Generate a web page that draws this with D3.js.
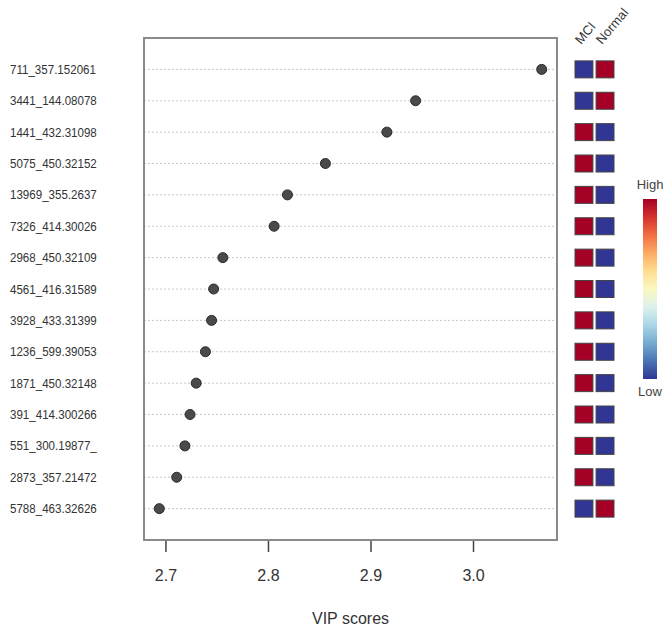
<!DOCTYPE html>
<html lang="en">
<head>
<meta charset="UTF-8"/>
<title>VIP scores</title>
<script src="https://d3js.org/d3.v7.min.js"></script>
<style>
  body { margin: 0; background: #fff; }
  text { font-family: "Liberation Sans", Arial, sans-serif; }
</style>
</head>
<body>
<div id="chart"></div>
<script>
// features, top to bottom
var features = ["711_357.152061", "3441_144.08078", "1441_432.31098", "5075_450.32152",
  "13969_355.2637", "7326_414.30026", "2968_450.32109", "4561_416.31589", "3928_433.31399",
  "1236_599.39053", "1871_450.32148", "391_414.300266", "551_300.19877_", "2873_357.21472",
  "5788_463.32626"];
var vip = [3.067, 2.944, 2.916, 2.856, 2.819, 2.806, 2.756, 2.747, 2.745, 2.739,
  2.730, 2.724, 2.719, 2.711, 2.694];
// relative level per group (1 = high, 0 = low)
var groups = ["MCI", "Normal"];
var mci    = [0, 0, 1, 1, 1, 1, 1, 1, 1, 1, 1, 1, 1, 1, 0];
var normal = [1, 1, 0, 0, 0, 0, 0, 0, 0, 0, 0, 0, 0, 0, 1];
var xTicks = [2.7, 2.8, 2.9, 3.0];

var W = 666, H = 637;
var box = {left: 144, right: 557, top: 38, bottom: 540};

var svg = d3.select("#chart").append("svg")
  .attr("width", W).attr("height", H);

// x: R style 4% padding around data range
var lo = d3.min(vip), hi = d3.max(vip), pad = (hi - lo) * 0.04;
var x = d3.scaleLinear().domain([lo - pad, hi + pad]).range([box.left, box.right]);
// y: rows 1..n, with one slot of space at each end
var n = features.length;
var y = d3.scaleLinear().domain([0, n + 1]).range([box.bottom, box.top]);
var rowY = function(i) { return y(n - i); };

// dotted guide lines
svg.selectAll("line.grid")
  .data(vip)
  .enter().append("line")
    .attr("class", "grid")
    .attr("x1", box.left).attr("x2", box.right)
    .attr("y1", function(d, i) { return rowY(i); })
    .attr("y2", function(d, i) { return rowY(i); })
    .attr("stroke", "#c8c8c8")
    .attr("stroke-dasharray", "2,2");

// frame
svg.append("rect")
  .attr("x", box.left).attr("y", box.top)
  .attr("width", box.right - box.left).attr("height", box.bottom - box.top)
  .attr("fill", "none").attr("stroke", "#8a8a8a").attr("stroke-width", 2);

// feature labels (picture is a bit squeezed sideways)
svg.selectAll("text.lab")
  .data(features)
  .enter().append("text")
    .attr("class", "lab")
    .attr("transform", function(d, i) { return "translate(10," + rowY(i) + ") scale(0.89,1)"; })
    .attr("dy", "0.35em")
    .attr("font-size", 13)
    .attr("fill", "#333")
    .text(function(d) { return d; });

// dots
svg.selectAll("circle.dot")
  .data(vip)
  .enter().append("circle")
    .attr("class", "dot")
    .attr("cx", function(d) { return x(d); })
    .attr("cy", function(d, i) { return rowY(i); })
    .attr("r", 5)
    .attr("fill", "#4a4a4a")
    .attr("stroke", "#2a2a2a");

// x axis
var ax = svg.append("g")
  .attr("transform", "translate(0," + (box.bottom + 1) + ")")
  .call(d3.axisBottom(x).tickValues(xTicks).tickFormat(d3.format(".1f")).tickSize(11).tickPadding(18));
ax.select(".domain").remove();
ax.selectAll("line").attr("stroke", "#444").attr("stroke-width", 1.5);
ax.selectAll("text").attr("font-size", 16).attr("fill", "#333")
  .style("font-family", "'Liberation Sans', Arial, sans-serif");

svg.append("text")
  .attr("x", (box.left + box.right) / 2).attr("y", 624)
  .attr("text-anchor", "middle").attr("font-size", 16).attr("fill", "#333")
  .text("VIP scores");

// heat cells
var color = d3.scaleSequential(function(t) { return d3.interpolateRdYlBu(1 - t); }).domain([0, 1]);
var cellX = d3.scaleBand().domain(groups).range([575, 614]).paddingInner(0.15);
var cellH = 17;
[mci, normal].forEach(function(vals, g) {
  svg.selectAll("rect.c" + g)
    .data(vals)
    .enter().append("rect")
      .attr("class", "c" + g)
      .attr("x", cellX(groups[g]))
      .attr("y", function(d, i) { return rowY(i) - cellH / 2; })
      .attr("width", cellX.bandwidth())
      .attr("height", cellH)
      .attr("fill", function(d) { return color(d); })
      .attr("stroke", "#444")
      .attr("stroke-width", 1);
});

// group labels
svg.selectAll("text.grp")
  .data(groups)
  .enter().append("text")
    .attr("class", "grp")
    .attr("transform", function(d) {
      return "translate(" + (cellX(d) + 6) + ",45) rotate(-50)";
    })
    .attr("font-size", 13)
    .attr("fill", "#333")
    .text(function(d) { return d; });

// colour key
var defs = svg.append("defs");
var grad = defs.append("linearGradient").attr("id", "key")
  .attr("x1", 0).attr("y1", 1).attr("x2", 0).attr("y2", 0);
d3.range(0, 1.01, 0.1).forEach(function(t) {
  grad.append("stop").attr("offset", t).attr("stop-color", color(t));
});
svg.append("rect")
  .attr("x", 643).attr("y", 199).attr("width", 14).attr("height", 180)
  .attr("fill", "url(#key)");
svg.append("text").attr("x", 650).attr("y", 189).attr("text-anchor", "middle")
  .attr("font-size", 13).attr("fill", "#444").text("High");
svg.append("text").attr("x", 650).attr("y", 396).attr("text-anchor", "middle")
  .attr("font-size", 13).attr("fill", "#444").text("Low");
</script>
</body>
</html>
